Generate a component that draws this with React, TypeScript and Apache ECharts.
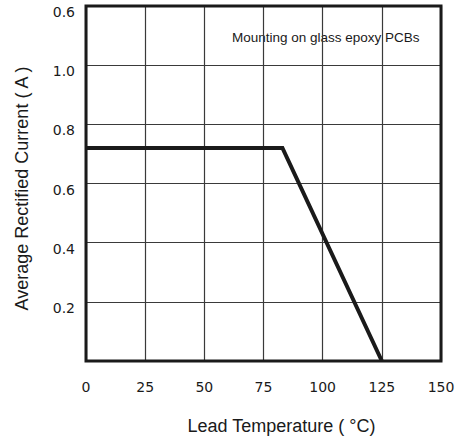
import React, { useEffect, useRef } from "react";
import * as echarts from "echarts";

const xTicks = [0, 25, 50, 75, 100, 125, 150];
const yTickLabels = ["", "0.2", "0.4", "0.6", "0.8", "1.0", "0.6"];
const curveTemp = [0, 83, 125];
const curveCurrent = [0.72, 0.72, 0];
const xTitle = "Lead Temperature ( °C)";
const yTitle = "Average Rectified Current ( A )";
const note = "Mounting on glass epoxy PCBs";

export default function App() {
  const ref = useRef<HTMLDivElement>(null);
  useEffect(() => {
    if (!ref.current) return;
    document.body.style.margin = "0";
    const chart = echarts.init(ref.current, undefined, { renderer: "svg" });
    const tickFont = { fontFamily: "DejaVu Sans", fontSize: 14, color: "#1a1a1a" };
    chart.setOption({
      animation: false,
      backgroundColor: "#ffffff",
      grid: {
        left: 86,
        right: 19,
        top: 6,
        bottom: 81,
        show: true,
        borderColor: "#1a1a1a",
        borderWidth: 3,
        z: 10,
      },
      xAxis: {
        type: "value",
        min: xTicks[0],
        max: xTicks[xTicks.length - 1],
        interval: 25,
        axisLine: { show: false },
        axisTick: { show: false },
        splitLine: { show: true, lineStyle: { color: "#3a3a3a", width: 1.2 } },
        axisLabel: { ...tickFont, margin: 19 },
        name: xTitle,
        nameLocation: "middle",
        nameGap: 56,
        nameTextStyle: {
          fontFamily: "Liberation Sans",
          fontSize: 18,
          color: "#1a1a1a",
          padding: [0, 0, 0, 36],
        },
      },
      yAxis: {
        type: "value",
        min: 0,
        max: 1.2,
        interval: 0.2,
        axisLine: { show: false },
        axisTick: { show: false },
        splitLine: { show: true, lineStyle: { color: "#3a3a3a", width: 1.2 } },
        axisLabel: {
          ...tickFont,
          margin: 11,
          verticalAlign: "top",
          lineHeight: 12,
          formatter: (_v: number, i: number) => yTickLabels[i] ?? "",
        },
        name: yTitle,
        nameLocation: "middle",
        nameGap: 55,
        nameTextStyle: {
          fontFamily: "Liberation Sans",
          fontSize: 18,
          color: "#1a1a1a",
          padding: [0, 10, 0, 0],
        },
      },
      graphic: [
        {
          type: "text",
          left: 232,
          top: 30,
          style: {
            text: note,
            fontFamily: "Liberation Sans",
            fontSize: 13.5,
            fill: "#1a1a1a",
          },
        },
      ],
      series: [
        {
          type: "line",
          data: curveTemp.map((t, i) => [t, curveCurrent[i]]),
          symbol: "none",
          lineStyle: { color: "#1a1a1a", width: 4, join: "miter" },
          z: 5,
        },
      ],
    });
    return () => chart.dispose();
  }, []);
  return <div ref={ref} style={{ width: 460, height: 442 }} />;
}
